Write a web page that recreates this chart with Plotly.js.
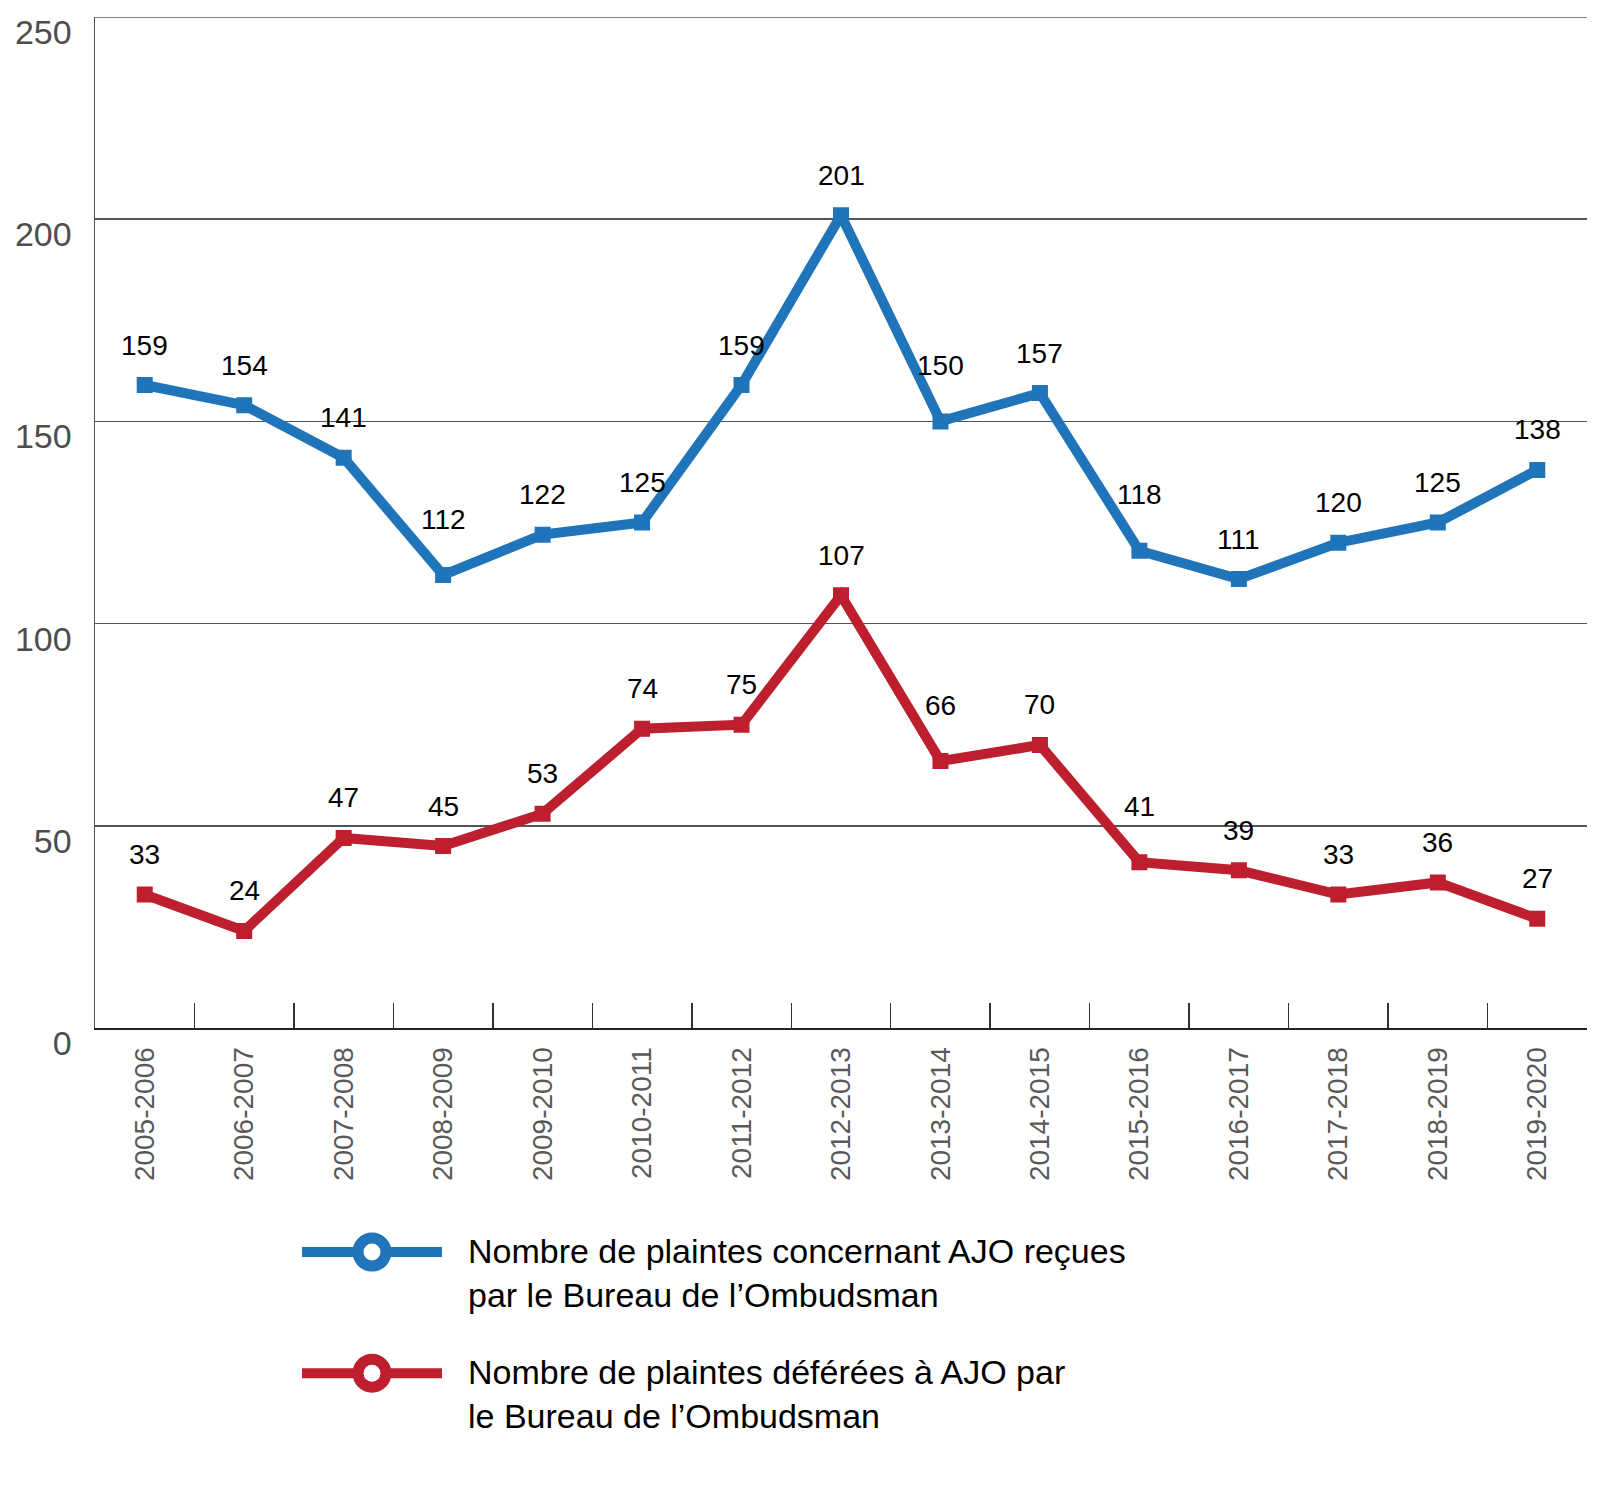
<!DOCTYPE html>
<html>
<head>
<meta charset="utf-8">
<script src="https://cdn.plot.ly/plotly-3.0.1.min.js"></script>
<style>
  html, body { margin: 0; padding: 0; background: #fff; }
  #chart { width: 1600px; height: 1486px; }
</style>
</head>
<body>
<div id="chart"></div>
<script>
// fiscal years
var years = ['2005-2006', '2006-2007', '2007-2008', '2008-2009', '2009-2010',
  '2010-2011', '2011-2012', '2012-2013', '2013-2014', '2014-2015',
  '2015-2016', '2016-2017', '2017-2018', '2018-2019', '2019-2020'];

// complaints received by the Ombudsman's office
var received = [159, 154, 141, 112, 122, 125, 159, 201, 150, 157, 118, 111, 120, 125, 138];
// complaints referred to AJO
var referred = [33, 24, 47, 45, 53, 74, 75, 107, 66, 70, 41, 39, 33, 36, 27];

var yTicks = [0, 50, 100, 150, 200, 250];
var yMax = 250;

var nameReceived = 'Nombre de plaintes concernant AJO reçues<br>par le Bureau de l\u2019Ombudsman';
var nameReferred = 'Nombre de plaintes déférées à AJO par<br>le Bureau de l\u2019Ombudsman';

var BLUE = '#1f74ba';
var RED = '#bd1f2e';
var FONT = '"Liberation Sans", Arial, sans-serif';

function series(vals, color, name) {
  return {
    x: years,
    y: vals,
    name: name,
    type: 'scatter',
    mode: 'lines+markers',
    line: { color: color, width: 10 },
    marker: { symbol: 'square', size: 12, color: color, line: { color: color, width: 4 } },
    cliponaxis: false,
    hoverinfo: 'x+y'
  };
}

var traces = [
  series(received, BLUE, nameReceived),
  series(referred, RED, nameReferred)
];

// value labels above each point; pushed up a bit more when the line
// drops steeply into the point so the text clears it
var annotations = [];
[received, referred].forEach(function (vals) {
  vals.forEach(function (v, i) {
    var drop = i > 0 ? vals[i - 1] - v : 0;
    annotations.push({
      x: years[i], y: v, xref: 'x', yref: 'y',
      text: String(v), showarrow: false,
      yshift: drop > 25 ? 56 : 40,
      font: { family: FONT, size: 28, color: '#000' }
    });
  });
});

// top gridline sits on the range edge, plotly skips it
var shapes = [{
  type: 'line', xref: 'paper', yref: 'y',
  x0: 0, x1: 1, y0: yMax, y1: yMax,
  line: { color: '#555', width: 1.5 }
}];

// hand-made legend (long line with a ring marker, two-line labels)
var W = 1492, H = 1010.5, L = 95, B = 1028;
function px(x) { return (x - L) / W; }
function py(y) { return (B - y) / H; }

var legendRows = [
  { color: BLUE, y: 1252, text: nameReceived },
  { color: RED, y: 1373, text: nameReferred }
];
legendRows.forEach(function (r) {
  shapes.push({
    type: 'line', xref: 'paper', yref: 'paper',
    x0: px(302), x1: px(442), y0: py(r.y), y1: py(r.y),
    line: { color: r.color, width: 10 }
  });
  shapes.push({
    type: 'circle', xref: 'paper', yref: 'paper',
    xsizemode: 'pixel', ysizemode: 'pixel',
    xanchor: px(372), yanchor: py(r.y),
    x0: -14, x1: 14, y0: -14, y1: 14,
    fillcolor: '#fff',
    line: { color: r.color, width: 11 }
  });
  annotations.push({
    xref: 'paper', yref: 'paper',
    x: px(466), y: py(r.y + 20.5),
    xanchor: 'left', yanchor: 'middle', align: 'left',
    text: r.text, showarrow: false,
    font: { family: FONT, size: 34, color: '#000' }
  });
});

var layout = {
  width: 1600,
  height: 1486,
  margin: { l: 95, r: 13, t: 17, b: 458 },
  paper_bgcolor: '#fff',
  plot_bgcolor: '#fff',
  showlegend: false,
  font: { family: FONT },
  xaxis: {
    type: 'category',
    range: [-0.5, 14.5],
    tickson: 'boundaries',
    ticks: 'inside',
    ticklen: 25,
    tickwidth: 1.5,
    tickcolor: '#333',
    tickangle: -90,
    tickfont: { family: FONT, size: 28, color: '#595959' },
    ticklabelstandoff: 6,
    showline: true,
    linecolor: '#222',
    linewidth: 2,
    showgrid: false,
    zeroline: false,
    fixedrange: true
  },
  yaxis: {
    range: [0, yMax],
    tickvals: yTicks,
    ticks: '',
    tickfont: { family: FONT, size: 34, color: '#4d4d4d' },
    ticklabelshift: 15,
    ticklabelstandoff: 15,
    showline: true,
    linecolor: '#555',
    linewidth: 1.5,
    showgrid: true,
    gridcolor: '#555',
    gridwidth: 1.5,
    zeroline: false,
    fixedrange: true
  },
  shapes: shapes,
  annotations: annotations
};

Plotly.newPlot('chart', traces, layout, { displayModeBar: false, staticPlot: true });
</script>
</body>
</html>
